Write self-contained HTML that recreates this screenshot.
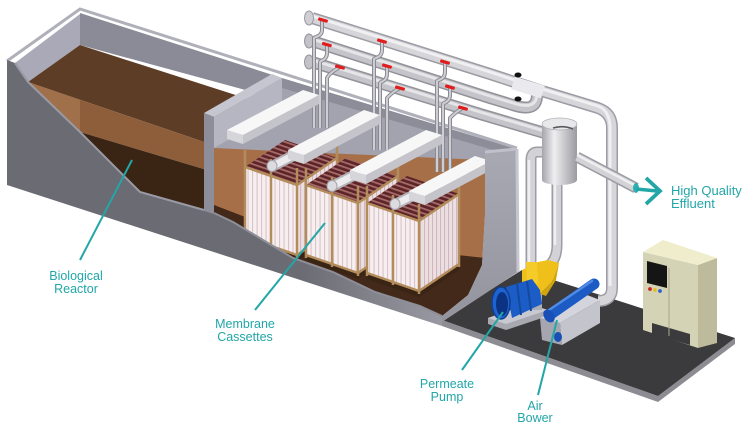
<!DOCTYPE html>
<html><head><meta charset="utf-8"><style>
html,body{margin:0;padding:0;background:#fff;}
svg{display:block;}
</style></head><body>
<svg width="750" height="431" viewBox="0 0 750 431" xmlns="http://www.w3.org/2000/svg">
<defs>
<pattern id="curt" width="4.5" height="10" patternUnits="userSpaceOnUse"><rect width="4.5" height="10" fill="#f7eef0"/><rect width="1.1" height="10" fill="#d9c5c9"/></pattern>
<pattern id="curt2" width="4" height="10" patternUnits="userSpaceOnUse"><rect width="4" height="10" fill="#ecdfe2"/><rect width="1.1" height="10" fill="#cfb8bd"/></pattern>
<pattern id="tubes" width="10" height="4.5" patternUnits="userSpaceOnUse" patternTransform="rotate(19)"><rect width="10" height="4.5" fill="#5c2426"/><rect width="10" height="1.8" fill="#a66c6c"/></pattern>
<linearGradient id="cutg" gradientUnits="userSpaceOnUse" x1="300" y1="0" x2="445" y2="0"><stop offset="0" stop-color="#6b6b73"/><stop offset="1" stop-color="#9a9aa4"/></linearGradient>
<linearGradient id="cyl" x1="0" y1="0" x2="1" y2="0"><stop offset="0" stop-color="#a4a4aa"/><stop offset="0.35" stop-color="#efeff1"/><stop offset="1" stop-color="#9a9aa0"/></linearGradient>
<linearGradient id="rw" x1="0" y1="0" x2="0" y2="1"><stop offset="0" stop-color="#a9a9b3"/><stop offset="1" stop-color="#94949e"/></linearGradient>
<clipPath id="mclip"><polygon points="214,117 282,78 517,149 485,152 485,215 482,265 468,295 442,316 420,306 375,292 333,272 293,258 233,222 214,213"/></clipPath>
</defs>
<rect width="750" height="431" fill="#fff"/>

<!-- floor slab -->
<polygon points="442,320 658,396 735,338 735,344 658,402 442,326" fill="#8c8c92"/>
<polygon points="442,320 522,270 735,338 658,396" fill="#3b3b3d"/>

<!-- reactor -->
<polygon points="80,13 282,78 282,100 80,45" fill="#8b8b97"/>
<polygon points="15,63 80,14 80,45 28,82" fill="#a9a9b7"/>
<polygon points="80,45 282,110 207,143 28,82" fill="#5d3d25"/>
<polygon points="28,82 207,143 207,170 80,132" fill="#8e5e3a"/>
<polygon points="28,82 80,100 80,132" fill="#a0704a"/>
<polygon points="80,132 207,170 207,212 140,192" fill="#3a2515"/>

<!-- membrane tank interior -->
<g clip-path="url(#mclip)">
<polygon points="214,117 282,78 517,149 485,152 485,330 214,330" fill="#a3a3b0"/>
<polygon points="282,78 517,149 517,157 282,88" fill="#8d8d9a"/>
<polygon points="214,148 300,152 485,160 485,330 214,330" fill="#a66f48"/>
<polygon points="214,205 300,238 485,258 485,330 214,330" fill="#43291a"/>
</g>
<polygon points="214,117 282,78 282,108 214,148" fill="#b6b6c3"/>
<polygon points="204,113 272,74 282,78 214,117" fill="#c6c6d0"/>

<!-- rims -->
<polyline points="7,61 80,9 517,148" fill="none" stroke="#b0b0ba" stroke-width="3"/>

<!-- horizontal pipes -->
<g fill="none" stroke-linejoin="round">
<path d="M312,62 L480,114 L548,134" stroke="#929299" stroke-width="12"/>
<path d="M312,62 L480,114 L548,134" stroke="#c4c4ca" stroke-width="9"/>
<path d="M312,62 L480,114 L548,134" stroke="#e6e6e9" stroke-width="3" transform="translate(0,-2)"/>
<path d="M312,41 L490,98 L513,105 C528,110 537,108 537,95" stroke="#929299" stroke-width="12"/>
<path d="M312,41 L490,98 L513,105 C528,110 537,108 537,95" stroke="#c4c4ca" stroke-width="9"/>
<path d="M312,41 L490,98 L513,105 C528,110 537,108 537,95" stroke="#e6e6e9" stroke-width="3" transform="translate(0,-2)"/>
<path d="M312,18 L490,74 L542,91 L598,108 Q612,113 612,128 L612,288 Q612,301 598,301" stroke="#9c9ca4" stroke-width="12"/>
<path d="M312,18 L490,74 L542,91 L598,108 Q612,113 612,128 L612,288 Q612,301 598,301" stroke="#d6d6da" stroke-width="9"/>
<path d="M312,18 L490,74 L542,91 L598,108 Q609,112 610,128 L610,288" stroke="#f0f0f2" stroke-width="3" transform="translate(0,-2)"/>
<path d="M513,83 L543,92" stroke="#eaeaee" stroke-width="13"/>
</g>
<ellipse cx="309" cy="18" rx="4.5" ry="7" fill="#cfcfd4" stroke="#9a9aa2"/>
<ellipse cx="309" cy="41" rx="4.5" ry="7" fill="#c2c2c8" stroke="#929299"/>
<ellipse cx="309" cy="62" rx="4.5" ry="7" fill="#c2c2c8" stroke="#929299"/>
<ellipse cx="518" cy="75" rx="3.5" ry="2.5" fill="#111"/>
<ellipse cx="518" cy="99" rx="3.5" ry="2.5" fill="#111"/>

<!-- drop pipes -->
<g fill="none" stroke-linejoin="round">
<g stroke="#8a8a92" stroke-width="4">
<path d="M322,20 L322,30 Q322,35 316,37 L314,38 L314,128"/>
<path d="M327,45 L327,53 Q327,59 321,61 L320,62 L320,128"/>
<path d="M340,67 Q334,70 329,75 L327,78 L327,128"/>
<path d="M382,41 L382,50 Q382,56 376,58 L374,59 L374,150"/>
<path d="M387,66 L387,74 Q387,80 381,82 L380,83 L380,150"/>
<path d="M400,88 Q394,91 389,96 L387,98 L387,150"/>
<path d="M445,62 L445,72 Q445,78 439,80 L437,81 L437,172"/>
<path d="M450,87 L450,95 Q450,101 444,103 L443,104 L443,172"/>
<path d="M463,108 Q457,111 452,116 L450,118 L450,172"/>
</g>
<g stroke="#cdcdd3" stroke-width="2">
<path d="M322,20 L322,30 Q322,35 316,37 L314,38 L314,128"/>
<path d="M327,45 L327,53 Q327,59 321,61 L320,62 L320,128"/>
<path d="M340,67 Q334,70 329,75 L327,78 L327,128"/>
<path d="M382,41 L382,50 Q382,56 376,58 L374,59 L374,150"/>
<path d="M387,66 L387,74 Q387,80 381,82 L380,83 L380,150"/>
<path d="M400,88 Q394,91 389,96 L387,98 L387,150"/>
<path d="M445,62 L445,72 Q445,78 439,80 L437,81 L437,172"/>
<path d="M450,87 L450,95 Q450,101 444,103 L443,104 L443,172"/>
<path d="M463,108 Q457,111 452,116 L450,118 L450,172"/>
</g>
</g>
<g fill="#e01c1c">
<rect x="318" y="18.5" width="10" height="3.2" rx="1.2" transform="rotate(16 323 20)"/>
<rect x="322" y="43" width="10" height="3.2" rx="1.2" transform="rotate(16 327 44)"/>
<rect x="335" y="65.5" width="10" height="3.2" rx="1.2" transform="rotate(16 340 67)"/>
<rect x="377" y="39.5" width="10" height="3.2" rx="1.2" transform="rotate(16 382 41)"/>
<rect x="382" y="64.5" width="10" height="3.2" rx="1.2" transform="rotate(16 387 66)"/>
<rect x="395" y="86.5" width="10" height="3.2" rx="1.2" transform="rotate(16 400 88)"/>
<rect x="440" y="60.5" width="10" height="3.2" rx="1.2" transform="rotate(16 445 62)"/>
<rect x="445" y="85.5" width="10" height="3.2" rx="1.2" transform="rotate(16 450 87)"/>
<rect x="458" y="106.5" width="10" height="3.2" rx="1.2" transform="rotate(16 463 108)"/>
</g>

<!-- CASSETTE 1 -->
<polygon points="245,167 297,185 337,158 285,140" fill="url(#tubes)"/>
<polygon points="245,167 297,185 297,255 245,237" fill="url(#curt)"/>
<polygon points="297,185 337,158 337,228 297,255" fill="url(#curt2)"/>
<polygon points="245,237 297,255 337,228 337,234 297,261 245,243" fill="#3a2414"/>
<g stroke="#b38c5c" stroke-width="2.5" fill="none">
<line x1="245" y1="150" x2="245" y2="240"/><line x1="271" y1="159" x2="271" y2="249"/><line x1="297" y1="168" x2="297" y2="258"/><line x1="337" y1="141" x2="337" y2="231"/>
<polyline points="245,167 297,185 337,158"/><polyline points="245,237 297,255 337,228"/>
</g>
<polygon points="227,130 243,135 243,144 227,139" fill="#d6d6da"/>
<polygon points="243,135 319,95 319,104 243,144" fill="#c4c4ca"/>
<polygon points="227,130 243,135 319,95 303,90" fill="#f7f7f7"/>
<path d="M273,166 L343,130" stroke="#b4b4ba" stroke-width="11"/>
<path d="M273,166 L343,130" stroke="#ececee" stroke-width="7"/>
<ellipse cx="272" cy="166" rx="5" ry="5.5" fill="#dcdce0" stroke="#a4a4aa"/>

<!-- CASSETTE 2 -->
<polygon points="306,185 358,203 398,176 346,158" fill="url(#tubes)"/>
<polygon points="306,185 358,203 358,273 306,255" fill="url(#curt)"/>
<polygon points="358,203 398,176 398,246 358,273" fill="url(#curt2)"/>
<polygon points="306,255 358,273 398,246 398,252 358,279 306,261" fill="#3a2414"/>
<g stroke="#b38c5c" stroke-width="2.5" fill="none">
<line x1="306" y1="168" x2="306" y2="258"/><line x1="332" y1="177" x2="332" y2="267"/><line x1="358" y1="186" x2="358" y2="276"/><line x1="398" y1="159" x2="398" y2="249"/>
<polyline points="306,185 358,203 398,176"/><polyline points="306,255 358,273 398,246"/>
</g>
<polygon points="288,150 304,155 304,164 288,159" fill="#d6d6da"/>
<polygon points="304,155 380,115 380,124 304,164" fill="#c4c4ca"/>
<polygon points="288,150 304,155 380,115 364,110" fill="#f7f7f7"/>
<path d="M333,186 L403,150" stroke="#b4b4ba" stroke-width="11"/>
<path d="M333,186 L403,150" stroke="#ececee" stroke-width="7"/>
<ellipse cx="332" cy="186" rx="5" ry="5.5" fill="#dcdce0" stroke="#a4a4aa"/>

<!-- CASSETTE 3 -->
<polygon points="367,203 419,221 459,194 407,176" fill="url(#tubes)"/>
<polygon points="367,203 419,221 419,291 367,273" fill="url(#curt)"/>
<polygon points="419,221 459,194 459,264 419,291" fill="url(#curt2)"/>
<polygon points="367,273 419,291 459,264 459,270 419,297 367,279" fill="#3a2414"/>
<g stroke="#b38c5c" stroke-width="2.5" fill="none">
<line x1="367" y1="186" x2="367" y2="276"/><line x1="393" y1="195" x2="393" y2="285"/><line x1="419" y1="204" x2="419" y2="294"/><line x1="459" y1="177" x2="459" y2="267"/>
<polyline points="367,203 419,221 459,194"/><polyline points="367,273 419,291 459,264"/>
</g>
<polygon points="350,170 366,175 366,184 350,179" fill="#d6d6da"/>
<polygon points="366,175 442,135 442,144 366,184" fill="#c4c4ca"/>
<polygon points="350,170 366,175 442,135 426,130" fill="#f7f7f7"/>
<path d="M396,204 L464,170" stroke="#b4b4ba" stroke-width="11"/>
<path d="M396,204 L464,170" stroke="#ececee" stroke-width="7"/>
<ellipse cx="395" cy="204" rx="5" ry="5.5" fill="#dcdce0" stroke="#a4a4aa"/>
<polygon points="409,191 425,196 425,205 409,200" fill="#d6d6da"/>
<polygon points="425,196 491,161 491,170 425,205" fill="#c4c4ca"/>
<polygon points="409,191 425,196 491,161 475,156" fill="#f7f7f7"/>

<!-- front cut face -->
<polygon points="7,60 15,63 28,82 80,132 140,192 204,210 214,213 233,222 293,258 333,272 375,292 420,306 442,316 442,326 7,185" fill="url(#cutg)"/>
<polyline points="15,63 28,82 80,132 140,192 204,210" fill="none" stroke="#9a9aa4" stroke-width="2"/>
<polyline points="214,213 233,222 293,258 333,272 375,292 420,306 442,316" fill="none" stroke="#8e8e98" stroke-width="2"/>
<polygon points="204,113 214,117 214,214 204,211" fill="#8e8e9a"/>

<!-- right wall -->
<polygon points="485,152 517,149 518,272 442,322 442,316 468,295 482,265 485,215" fill="url(#rw)"/>
<polyline points="517,149 518,272" fill="none" stroke="#c6c6ce" stroke-width="3"/>
<polyline points="485,152 517,149" fill="none" stroke="#c0c0ca" stroke-width="3"/>

<!-- cylinder and its pipes -->
<g fill="none">
<path d="M545,152 L537,152 Q531,152 531,160 L531,268" stroke="#9c9ca4" stroke-width="11"/>
<path d="M545,152 L537,152 Q531,152 531,160 L531,268" stroke="#d2d2d7" stroke-width="8"/>
<path d="M529,160 L529,268" stroke="#efeff1" stroke-width="2.5"/>
<path d="M557,178 L557,245 Q557,262 545,268" stroke="#9c9ca4" stroke-width="11"/>
<path d="M557,178 L557,245 Q557,262 545,268" stroke="#d2d2d7" stroke-width="8"/>
<path d="M555,180 L555,245" stroke="#efeff1" stroke-width="2.5"/>
</g>
<rect x="542" y="124" width="35" height="56" fill="url(#cyl)"/>
<ellipse cx="559.5" cy="180" rx="17.5" ry="5" fill="url(#cyl)"/>
<ellipse cx="559.5" cy="124" rx="17.5" ry="6" fill="#e8e8ea" stroke="#b0b0b6" stroke-width="0.8"/>
<path d="M553,128 Q563,125 573,129" fill="none" stroke="#5a5a5e" stroke-width="1.6"/>

<!-- effluent pipe -->
<path d="M577,157 L636,188" stroke="#9c9ca4" stroke-width="11" fill="none"/>
<path d="M577,157 L636,188" stroke="#d2d2d7" stroke-width="8" fill="none"/>
<path d="M577,155 L636,186" stroke="#efeff1" stroke-width="2.5" fill="none"/>
<ellipse cx="636" cy="188" rx="3" ry="5" fill="#2ab0b0"/>
<path d="M636,189 L657,191" stroke="#22a6a8" stroke-width="3.5" fill="none"/>
<polyline points="646,178 660,191 646,204" stroke="#22a6a8" stroke-width="3.8" fill="none"/>

<!-- pump -->
<polygon points="488,318 528,304 548,310 548,316 506,330 488,324" fill="#a8a8b0"/>
<polygon points="488,318 528,304 548,310 506,324" fill="#c8c8d0"/>
<rect x="524" y="290" width="18" height="20" fill="#aeaeb6"/>
<polygon points="522,270 538,262 548,260 559,263 552,282 540,294 530,298 522,292" fill="#f0c01a"/>
<polygon points="526,262 537,262 538,283 527,287" fill="#f5cb2a"/>
<polygon points="540,294 552,282 559,263 556,280 546,296" fill="#d2a40e"/>
<polygon points="506,287 532,279 540,290 542,304 512,318" fill="#1b5cc6"/>
<line x1="517" y1="284" x2="521" y2="315" stroke="#134a9e" stroke-width="2"/>
<line x1="527" y1="281" x2="531" y2="311" stroke="#134a9e" stroke-width="2"/>
<ellipse cx="501" cy="303" rx="9" ry="16" fill="#1e63d2" stroke="#123f8f" stroke-width="1.5"/>
<ellipse cx="502" cy="304" rx="6" ry="12" fill="#0b3382"/>

<!-- blower -->
<polygon points="540,318 560,323 562,345 542,340" fill="#a6a6b0"/>
<polygon points="560,323 600,300 600,323 562,345" fill="#c4c4cc"/>
<polygon points="540,318 587,295 600,300 560,323" fill="#d4d4dc"/>
<ellipse cx="558" cy="337" rx="4" ry="5" fill="#1a50b4"/>
<line x1="551" y1="314" x2="594" y2="284" stroke="#1c5ac4" stroke-width="11" stroke-linecap="round"/>
<line x1="549" y1="310" x2="592" y2="281" stroke="#4f8ae6" stroke-width="2.5" stroke-linecap="round"/>
<ellipse cx="549" cy="316" rx="5" ry="7" fill="#1850b8" transform="rotate(-35 549 316)"/>

<!-- cabinet -->
<polygon points="643,252 698,265 698,348 643,330" fill="#d5d3b5"/>
<polygon points="698,265 717,258 717,343 698,348" fill="#bdbb9b"/>
<polygon points="643,252 663,240 717,258 698,265" fill="#efedcc"/>
<polygon points="652,323 690,334 690,345 652,334" fill="#3b3b3d"/>
<polygon points="647,261 667,266 667,288 647,283" fill="#151515"/>
<line x1="669" y1="268" x2="669" y2="336" stroke="#a9a789" stroke-width="1"/>
<circle cx="650" cy="289" r="1.9" fill="#d02020"/>
<circle cx="655" cy="290" r="1.9" fill="#e0c020"/>
<circle cx="660" cy="291" r="1.9" fill="#3060d0"/>

<!-- leaders -->
<g stroke="#22a6a8" stroke-width="2" fill="none">
<line x1="80" y1="260" x2="132" y2="160"/>
<line x1="255" y1="310" x2="325" y2="223"/>
<line x1="462" y1="370" x2="503" y2="312"/>
<line x1="538" y1="395" x2="557" y2="320"/>
</g>

<!-- labels -->
<g font-family="Liberation Sans, Arial, sans-serif" font-size="12.5" fill="#22a6a8" text-anchor="middle">
<text x="76" y="280">Biological</text>
<text x="76" y="293">Reactor</text>
<text x="245" y="328">Membrane</text>
<text x="245" y="341">Cassettes</text>
<text x="447" y="388">Permeate</text>
<text x="447" y="401">Pump</text>
<text x="535" y="410">Air</text>
<text x="535" y="422">Bower</text>
</g>
<g font-family="Liberation Sans, Arial, sans-serif" font-size="13" fill="#22a6a8">
<text x="671" y="195">High Quality</text>
<text x="671" y="208">Effluent</text>
</g>
</svg>
</body></html>
